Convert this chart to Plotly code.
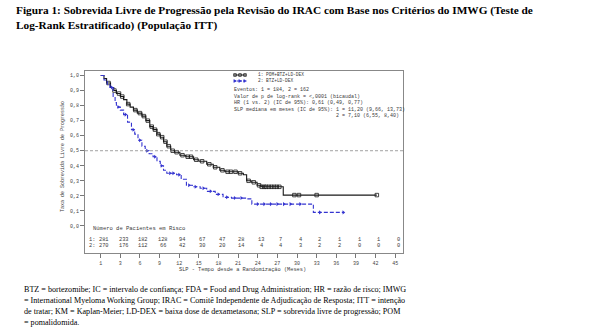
import plotly.graph_objects as go

W, H = 605, 335

# ---- Data ----
arm_labels = ["1: POM+BTZ+LD-DEX", "2: BTZ+LD-DEX"]

t_pom = [0, 0.5, 0.9, 1.5, 2.0, 2.4, 3.0, 3.5, 4.0, 4.5, 5.0, 5.6, 6.3, 6.9, 7.5, 8.0, 8.6, 9.1,
         9.6, 10.1, 10.7, 11.3, 12.1, 13.0, 14.2, 15.0, 16.2, 17.2, 18.2, 19.0, 21.0, 21.8, 22.3,
         23.0, 23.9, 24.5, 27.9, 42.2]
s_pom = [1.0, 0.98, 0.95, 0.92, 0.90, 0.88, 0.86, 0.84, 0.81, 0.79, 0.77, 0.75, 0.73, 0.70, 0.66,
         0.64, 0.61, 0.59, 0.56, 0.53, 0.50, 0.49, 0.47, 0.46, 0.44, 0.43, 0.41, 0.39, 0.37, 0.36,
         0.35, 0.34, 0.30, 0.29, 0.27, 0.26, 0.205, 0.205]
cens_pom = [1.2, 2.1, 2.8, 3.3, 4.2, 5.3, 6.0, 6.6, 7.2, 7.8, 8.3, 8.8, 9.4, 9.9, 10.4, 11.0, 11.6,
            12.5, 13.3, 13.8, 14.6, 15.5, 16.6, 17.5, 18.6, 19.4, 19.9, 20.6, 21.3, 22.6, 23.4,
            24.2, 24.6, 25.0, 25.3, 25.7, 26.1, 26.5, 26.9, 27.3, 29.6, 30.3, 33.0, 42.2]

t_btz = [0, 0.5, 1.0, 1.4, 1.9, 2.2, 2.4, 3.0, 3.5, 4.1, 4.7, 5.2, 5.7, 6.3, 6.8, 7.4, 8.0, 8.6,
         9.1, 9.6, 10.1, 11.6, 12.3, 13.1, 14.0, 15.2, 16.2, 17.5, 18.7, 20.0, 22.3, 23.1, 32.5, 37.1]
s_btz = [1.0, 0.97, 0.94, 0.92, 0.86, 0.82, 0.79, 0.77, 0.74, 0.69, 0.64, 0.61, 0.57, 0.53, 0.50,
         0.48, 0.46, 0.43, 0.40, 0.37, 0.35, 0.34, 0.31, 0.27, 0.26, 0.25, 0.23, 0.21, 0.19, 0.185,
         0.18, 0.145, 0.09, 0.09]
cens_btz = [1.7, 2.7, 3.8, 5.0, 6.0, 7.1, 8.3, 9.3, 10.6, 11.1, 12.0, 13.5, 14.5, 15.7, 16.8, 18.0,
            19.3, 20.5, 21.5, 24.0, 25.0, 26.0, 27.0, 28.0, 29.0, 30.5, 33.5, 37.1]

risk_times = [0, 3, 6, 9, 12, 15, 18, 21, 24, 27, 30, 33, 36, 39, 42, 45]
risk_pom = [281, 233, 182, 128, 94, 67, 47, 28, 13, 7, 4, 2, 1, 1, 1, 0]
risk_btz = [270, 176, 112, 66, 42, 30, 20, 14, 4, 4, 3, 2, 2, 0, 0, 0]

x_tickvals = [0, 3, 6, 9, 12, 15, 18, 21, 24, 27, 30, 33, 36, 39, 42, 45]
x_ticktext = ["1", "3", "6", "9", "12", "15", "18", "21", "24", "27", "30", "33", "36", "39", "42", "45"]
y_tickvals = [0.0, 0.1, 0.2, 0.3, 0.4, 0.5, 0.6, 0.7, 0.8, 0.9, 1.0]
y_ticktext = ["0,0", "0,1", "0,2", "0,3", "0,4", "0,5", "0,6", "0,7", "0,8", "0,9", "1,0"]

stats_lines = [
    "Eventos: 1 = 184, 2 = 162",
    "Valor de p de log-rank = <,0001 (bicaudal)",
    "HR (1 vs. 2) (IC de 95%): 0,61 (0,49, 0,77)",
    "SLP mediana em meses (IC de 95%): 1 = 11,20 (9,66, 13,73)",
]
stats_line2 = "2 = 7,10 (6,55, 8,40)"

title_text = ("Figura 1: Sobrevida Livre de Progressão pela Revisão do IRAC com Base nos Critérios do IMWG (Teste de<br>"
              "Log-Rank Estratificado) (População ITT)")
foot_lines = [
    "BTZ = bortezomibe; IC = intervalo de confiança; FDA = Food and Drug Administration; HR = razão de risco; IMWG",
    "= International Myeloma Working Group; IRAC = Comitê Independente de Adjudicação de Resposta; ITT = intenção",
    "de tratar; KM = Kaplan-Meier; LD-DEX = baixa dose de dexametasona; SLP = sobrevida livre de progressão; POM",
    "= pomalidomida.",
]
x_title = "SLP - Tempo desde a Randomização (Meses)"
y_title = "Taxa de Sobrevida Livre de Progressão"
risk_header = "Número de Pacientes em Risco"

# ---- helpers ----
def px(x):
    return x / W

def py(y):
    return 1 - y / H

def step_at(ts, ss, t):
    v = ss[0]
    for ti, si in zip(ts, ss):
        if ti <= t:
            v = si
        else:
            break
    return v

BLACK = "#1a1a1a"
BLUE = "#3434d0"
TXT = "#3a3a3a"
MONO = "Liberation Mono, DejaVu Sans Mono, monospace"
SERIF = "Liberation Serif, Times New Roman, serif"

fig = go.Figure()

fig.add_trace(go.Scatter(x=t_pom, y=s_pom, mode="lines", line=dict(color=BLACK, width=1.1, shape="hv"),
                         showlegend=False, hoverinfo="skip"))
fig.add_trace(go.Scatter(x=cens_pom, y=[step_at(t_pom, s_pom, t) for t in cens_pom], mode="markers",
                         marker=dict(symbol="square-open", size=3.5, color=BLACK, line=dict(width=0.8)),
                         showlegend=False, hoverinfo="skip"))
fig.add_trace(go.Scatter(x=t_btz, y=s_btz, mode="lines",
                         line=dict(color=BLUE, width=1.1, shape="hv", dash="4px,2px"),
                         showlegend=False, hoverinfo="skip"))
fig.add_trace(go.Scatter(x=cens_btz, y=[step_at(t_btz, s_btz, t) for t in cens_btz], mode="markers",
                         marker=dict(symbol="triangle-right", size=3.5, color=BLUE),
                         showlegend=False, hoverinfo="skip"))

# 0.5 reference line
fig.add_shape(type="line", xref="paper", yref="y", x0=px(85), x1=px(403), y0=0.5, y1=0.5,
              line=dict(color="#8a8a8a", width=0.8, dash="3px,2px"))

annotations = []
# Title
annotations.append(dict(text="<b>" + title_text + "</b>", xref="paper", yref="paper", x=px(14), y=py(2),
                        xanchor="left", yanchor="top", align="left", showarrow=False,
                        font=dict(family=SERIF, size=11.3, color="black")))
# Footnote
for i, ln in enumerate(foot_lines):
    annotations.append(dict(text=ln, xref="paper", yref="paper", x=px(22), y=py(289 + i * 11.3),
                            xanchor="left", yanchor="middle", showarrow=False,
                            font=dict(family=SERIF, size=8.1, color="black")))

# Legend (manual)
leg_rows = [75, 81]
for j, (col, sym) in enumerate(zip([BLACK, BLUE], ["square", "triangle"])):
    yy = leg_rows[j]
    fig.add_shape(type="line", xref="paper", yref="paper", x0=px(234), x1=px(246), y0=py(yy), y1=py(yy),
                  line=dict(color=col, width=1, dash="solid" if j == 0 else "2px,1px"))
    for k in range(3):
        cx = 235 + k * 5
        if sym == "square":
            fig.add_shape(type="rect", xref="paper", yref="paper", x0=px(cx - 1.3), x1=px(cx + 1.3),
                          y0=py(yy - 1.3), y1=py(yy + 1.3), line=dict(color=col, width=0.8))
        else:
            fig.add_shape(type="path", xref="paper", yref="paper",
                          path=f"M {px(cx-1.2)} {py(yy-1.4)} L {px(cx+1.5)} {py(yy)} L {px(cx-1.2)} {py(yy+1.4)} Z",
                          fillcolor=col, line=dict(color=col, width=0.5))
annotations.append(dict(text="<br>".join(arm_labels), xref="paper", yref="paper", x=px(257), y=py(78),
                        xanchor="left", yanchor="middle", align="left", showarrow=False, borderpad=0,
                        font=dict(family=MONO, size=4.5, color=TXT)))

# Stats block (single multi-line text)
indent = "\u00a0" * len("SLP mediana em meses (IC de 95%): ")
stats_text = "<br>".join(stats_lines + [indent + stats_line2])
annotations.append(dict(text=stats_text, xref="paper", yref="paper", x=px(233), y=py(85.5),
                        xanchor="left", yanchor="top", align="left", showarrow=False, borderpad=0,
                        font=dict(family=MONO, size=5.0, color=TXT)))

# Numbers at risk
annotations.append(dict(text=risk_header, xref="paper", yref="paper", x=px(91), y=py(228.5),
                        xanchor="left", yanchor="middle", showarrow=False,
                        font=dict(family=MONO, size=5.5, color=TXT)))
risk_rows = [240, 245.5]
for lab, yy in zip(["1:", "2:"], risk_rows):
    annotations.append(dict(text=lab, xref="paper", yref="paper", x=px(88), y=py(yy),
                            xanchor="left", yanchor="middle", showarrow=False, borderpad=0,
                            font=dict(family=MONO, size=5.3, color=TXT)))
for t, a, b in zip(risk_times, risk_pom, risk_btz):
    for val, yy in zip([a, b], risk_rows):
        annotations.append(dict(text=str(val), xref="x", yref="paper", x=t + 0.5, y=py(yy),
                                xanchor="center", yanchor="middle", showarrow=False, borderpad=0,
                                font=dict(family=MONO, size=5.3, color=TXT)))

# Axis titles
annotations.append(dict(text=x_title, xref="paper", yref="paper", x=px(242), y=py(270),
                        xanchor="center", yanchor="middle", showarrow=False,
                        font=dict(family=MONO, size=5.3, color=TXT)))
annotations.append(dict(text=y_title, xref="paper", yref="paper", x=px(63), y=py(157), textangle=-90,
                        xanchor="center", yanchor="middle", showarrow=False,
                        font=dict(family=MONO, size=5.0, color=TXT)))

fig.update_layout(
    width=W, height=H, margin=dict(l=0, r=0, t=0, b=0),
    paper_bgcolor="white", plot_bgcolor="white",
    annotations=annotations, showlegend=False,
    xaxis=dict(domain=[px(85), px(403)], range=[-2.4, 46.2], tickvals=x_tickvals, ticktext=x_ticktext,
               ticks="outside", ticklen=4, tickcolor="#777", showline=True, linecolor="#888", linewidth=1,
               mirror=True, showgrid=False, zeroline=False, ticklabelstandoff=1,
               tickfont=dict(family=MONO, size=5, color="#444"), anchor="y"),
    yaxis=dict(domain=[py(253), py(71)], range=[-0.18, 1.03], tickvals=y_tickvals, ticktext=y_ticktext,
               ticks="outside", ticklen=4, tickcolor="#777", showline=True, linecolor="#888", linewidth=1,
               mirror=True, showgrid=False, zeroline=False,
               tickfont=dict(family=MONO, size=5, color="#444"), anchor="x"),
)

fig.write_html("out.html")
